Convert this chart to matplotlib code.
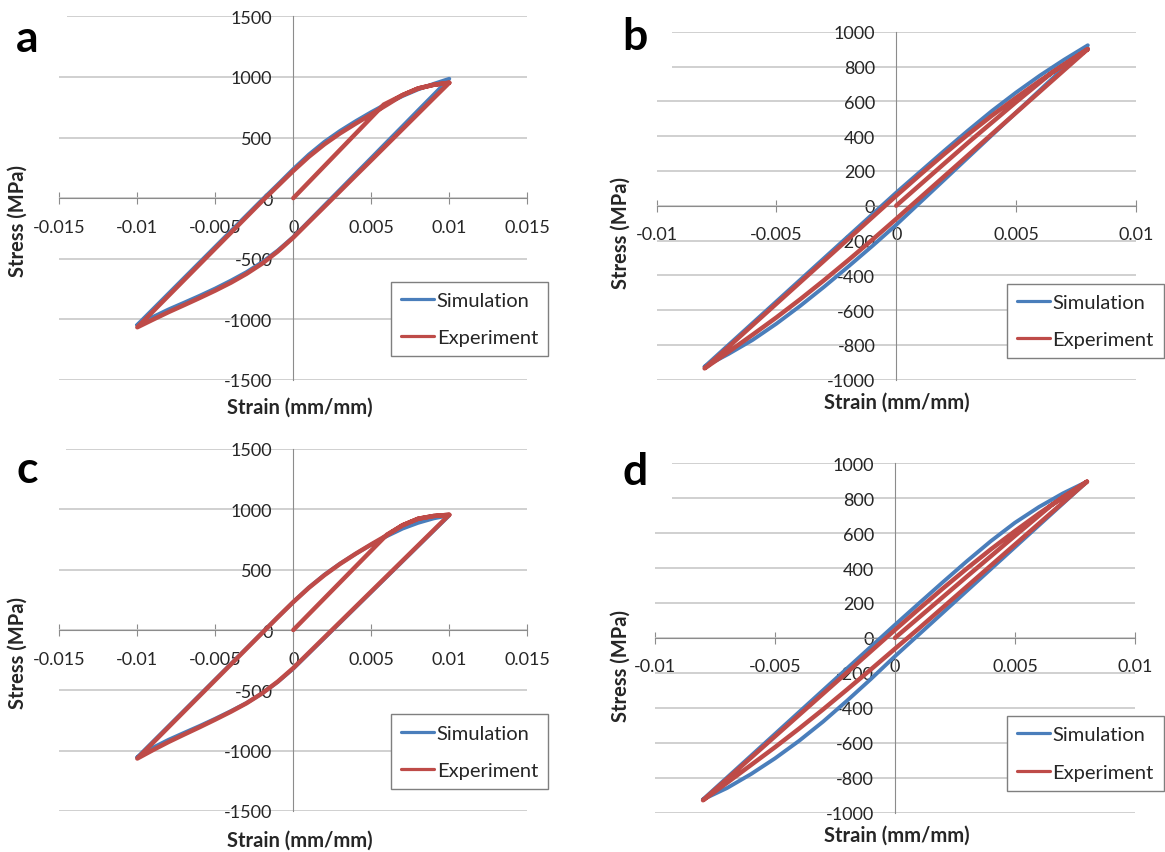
import matplotlib
matplotlib.use("Agg")
import matplotlib.pyplot as plt
from matplotlib.patches import Rectangle
from matplotlib.ticker import FixedLocator, FixedFormatter

plt.rcParams['font.family'] = ['Lato', 'DejaVu Sans']
plt.rcParams['axes.unicode_minus'] = False

SIM_COLOR = '#4a7ebb'
EXP_COLOR = '#be4b48'
GRID_COLOR = '#c8c8c8'
AXIS_COLOR = '#8c8c8c'
TEXT_COLOR = '#262626'

SERIES_NAMES = ['Simulation', 'Experiment']
X_LABEL = 'Strain (mm/mm)'
Y_LABEL = 'Stress (MPa)'

# ---- tick values / labels ----
wide_xticks = [-0.015, -0.01, -0.005, 0.0, 0.005, 0.01, 0.015]
wide_xlabels = ['-0.015', '-0.01', '-0.005', '0', '0.005', '0.01', '0.015']
narrow_xticks = [-0.01, -0.005, 0.0, 0.005, 0.01]
narrow_xlabels = ['-0.01', '-0.005', '0', '0.005', '0.01']
big_yticks = [-1500, -1000, -500, 0, 500, 1000, 1500]
big_ylabels = ['-1500', '-1000', '-500', '0', '500', '1000', '1500']
small_yticks = [-1000, -800, -600, -400, -200, 0, 200, 400, 600, 800, 1000]
small_ylabels = ['-1000', '-800', '-600', '-400', '-200', '0', '200', '400',
                 '600', '800', '1000']

# ---- panel a : strain amplitude 0.01 ----
a_sim_strain = [-0.010, -0.009, -0.008, -0.007, -0.006, -0.005, -0.004, -0.003, -0.002,
                -0.001, 0.000, 0.001, 0.002, 0.003, 0.004, 0.005, 0.006, 0.007, 0.008,
                0.009, 0.010,
                0.009, 0.008, 0.007, 0.006, 0.005, 0.004, 0.003, 0.002, 0.001, 0.000,
                -0.001, -0.002, -0.003, -0.004, -0.005, -0.006, -0.007, -0.008, -0.009,
                -0.010]
a_sim_stress = [-1045, -916, -787, -658, -529, -400, -271, -142, -13,
                112, 240, 360, 465, 555, 635, 710, 780, 842, 897,
                943, 985,
                854, 724, 593, 463, 332, 202, 71, -59, -190, -320,
                -432, -528, -610, -680, -745, -805, -862, -918, -980,
                -1045]
a_exp_strain = [0.000, 0.0058, 0.007, 0.008, 0.009, 0.010,
                0.009, 0.008, 0.007, 0.006, 0.005, 0.004, 0.003, 0.002, 0.001, 0.000,
                -0.001, -0.002, -0.003, -0.004, -0.005, -0.006, -0.007, -0.008, -0.009,
                -0.010,
                -0.009, -0.008, -0.007, -0.006, -0.005, -0.004, -0.003, -0.002, -0.001,
                0.000, 0.001, 0.002, 0.003, 0.004, 0.005, 0.006, 0.007, 0.008, 0.009,
                0.010]
a_exp_stress = [0, 772, 850, 905, 935, 952,
                825, 697, 569, 441, 313, 186, 58, -70, -197, -325,
                -440, -540, -624, -697, -762, -823, -882, -940, -1002,
                -1065,
                -935, -805, -675, -545, -415, -285, -155, -25, 100,
                225, 342, 445, 535, 615, 692, 770, 850, 905, 935,
                952]

# ---- panel b : strain amplitude 0.008 ----
b_sim_strain = [-0.008, -0.007, -0.006, -0.005, -0.004, -0.003, -0.002, -0.001, 0.000,
                0.001, 0.002, 0.003, 0.004, 0.005, 0.006, 0.007, 0.008,
                0.007, 0.006, 0.005, 0.004, 0.003, 0.002, 0.001, 0.000,
                -0.001, -0.002, -0.003, -0.004, -0.005, -0.006, -0.007, -0.008]
b_sim_stress = [-925, -800, -675, -550, -425, -300, -175, -50, 75,
                195, 315, 432, 545, 650, 748, 838, 922,
                793, 664, 535, 406, 277, 148, 19, -110,
                -232, -350, -465, -575, -678, -772, -852, -925]
b_exp_strain = [0.000, 0.003, 0.005, 0.0065, 0.007, 0.008,
                0.007, 0.006, 0.005, 0.004, 0.003, 0.002, 0.001, 0.000,
                -0.001, -0.002, -0.003, -0.004, -0.005, -0.006, -0.007, -0.008,
                -0.007, -0.006, -0.005, -0.004, -0.003, -0.002, -0.001, 0.000,
                0.001, 0.002, 0.003, 0.004, 0.005, 0.006, 0.007, 0.008]
b_exp_stress = [0, 362, 595, 765, 810, 900,
                778, 656, 534, 412, 290, 168, 46, -76,
                -196, -313, -427, -537, -642, -742, -840, -935,
                -811, -687, -563, -439, -315, -191, -67, 57,
                178, 296, 410, 518, 620, 718, 810, 900]

# ---- panel c : strain amplitude 0.01 ----
c_sim_strain = list(a_sim_strain)
c_sim_stress = [-1055, -926, -797, -668, -539, -410, -281, -152, -23,
                106, 232, 352, 458, 550, 632, 708, 778, 840, 888,
                925, 950,
                823, 696, 569, 442, 315, 188, 61, -66, -193, -320,
                -430, -525, -605, -672, -735, -795, -852, -910, -975,
                -1055]
c_exp_strain = [0.000, 0.006, 0.007, 0.008, 0.009, 0.010,
                0.009, 0.008, 0.007, 0.006, 0.005, 0.004, 0.003, 0.002, 0.001, 0.000,
                -0.001, -0.002, -0.003, -0.004, -0.005, -0.006, -0.007, -0.008, -0.009,
                -0.010,
                -0.009, -0.008, -0.007, -0.006, -0.005, -0.004, -0.003, -0.002, -0.001,
                0.000, 0.001, 0.002, 0.003, 0.004, 0.005, 0.006, 0.007, 0.008, 0.009,
                0.010]
c_exp_stress = [0, 790, 868, 922, 945, 955,
                828, 701, 574, 447, 320, 193, 66, -61, -188, -315,
                -428, -525, -607, -677, -742, -805, -866, -928, -995,
                -1065,
                -935, -805, -675, -545, -415, -285, -155, -25, 105,
                232, 350, 455, 548, 632, 710, 785, 868, 922, 945,
                955]

# ---- panel d : strain amplitude 0.008 ----
d_sim_strain = list(b_sim_strain)
d_sim_stress = [-925, -800, -675, -550, -425, -300, -175, -50, 75,
                198, 320, 440, 555, 660, 750, 828, 895,
                770, 645, 520, 395, 270, 145, 20, -105,
                -235, -360, -480, -590, -690, -780, -860, -925]
d_exp_strain = list(b_exp_strain)
d_exp_stress = [0, 352, 585, 758, 806, 895,
                775, 655, 535, 415, 295, 175, 55, -62,
                -180, -296, -410, -520, -626, -728, -830, -930,
                -808, -686, -564, -442, -320, -198, -76, 46,
                166, 284, 398, 508, 612, 712, 806, 895]

W, H = 1165, 853
fig = plt.figure(figsize=(W / 100, H / 100), dpi=100)
fig.patch.set_facecolor('white')


def fx(px):
    return px / W


def fy(py):
    return 1 - py / H


def panel(box, xticks, xlabels, yticks, ylabels, sim_x, sim_y, exp_x, exp_y,
          legend_xy, letter, letter_xy, mask_box, xlabel_xy, ylabel_xy):
    x0, x1, y0, y1 = box
    ax = fig.add_axes([fx(x0), fy(y1), fx(x1 - x0), (y1 - y0) / H])
    ax.set_xlim(xticks[0], xticks[-1])
    ax.set_ylim(yticks[0], yticks[-1])
    for side in ('top', 'right'):
        ax.spines[side].set_visible(False)
    ax.spines['left'].set_position(('data', 0))
    ax.spines['bottom'].set_position(('data', 0))
    for side in ('left', 'bottom'):
        ax.spines[side].set_color(AXIS_COLOR)
        ax.spines[side].set_linewidth(0.8)
    ax.xaxis.set_major_locator(FixedLocator(xticks))
    ax.xaxis.set_major_formatter(FixedFormatter(xlabels))
    ax.yaxis.set_major_locator(FixedLocator(yticks))
    ax.yaxis.set_major_formatter(FixedFormatter(ylabels))
    ax.tick_params(axis='x', direction='inout', length=8.6, width=0.8,
                   color=AXIS_COLOR, labelsize=13, labelcolor=TEXT_COLOR, pad=10.5)
    ax.tick_params(axis='y', length=0, labelsize=13, labelcolor=TEXT_COLOR, pad=15)
    ax.yaxis.grid(True, color=GRID_COLOR, linewidth=1.2)
    ax.set_axisbelow(True)
    ax.patch.set_alpha(0)

    ax.plot(sim_x, sim_y, color=SIM_COLOR, lw=2.8, zorder=3,
            solid_joinstyle='round', solid_capstyle='round', label=SERIES_NAMES[0])
    ax.plot(exp_x, exp_y, color=EXP_COLOR, lw=3.2, zorder=4,
            solid_joinstyle='round', solid_capstyle='round', label=SERIES_NAMES[1])

    leg = ax.legend(loc='upper left', bbox_to_anchor=(fx(legend_xy[0]), fy(legend_xy[1])),
                    bbox_transform=fig.transFigure, frameon=True, fancybox=False,
                    edgecolor='#7f7f7f', framealpha=1, borderpad=0.5,
                    handlelength=1.65, handletextpad=0.12, labelspacing=1.0,
                    borderaxespad=0, fontsize=14.5)
    leg.get_frame().set_linewidth(1.0)
    leg.set_zorder(10)
    for line in leg.get_lines():
        line.set_linewidth(2.3)
    for t in leg.get_texts():
        t.set_color(TEXT_COLOR)

    mx0, my0, mx1, my1 = mask_box
    fig.add_artist(Rectangle((fx(mx0), fy(my1)), fx(mx1 - mx0), (my1 - my0) / H,
                             transform=fig.transFigure, facecolor='white',
                             edgecolor='none', zorder=5))
    fig.text(fx(letter_xy[0]), fy(letter_xy[1]), letter, fontsize=32,
             fontweight='bold', ha='left', va='baseline', zorder=6)
    fig.text(fx(xlabel_xy[0]), fy(xlabel_xy[1]), X_LABEL, fontsize=14.5,
             fontweight='bold', ha='center', va='center', color=TEXT_COLOR)
    fig.text(fx(ylabel_xy[0]), fy(ylabel_xy[1]), Y_LABEL, fontsize=14.5,
             fontweight='bold', ha='center', va='center', rotation=90,
             color=TEXT_COLOR)
    return ax


panel((59.3, 527.3, 17.3, 381.0), wide_xticks, wide_xlabels, big_yticks, big_ylabels,
      a_sim_strain, a_sim_stress, a_exp_strain, a_exp_stress,
      (391, 282.7), 'a', (16, 52), (0, 0, 66.7, 70), (300, 408), (18, 221))
panel((656.7, 1135.7, 32.7, 380.7), narrow_xticks, narrow_xlabels, small_yticks,
      small_ylabels, b_sim_strain, b_sim_stress, b_exp_strain, b_exp_stress,
      (1006.7, 285), 'b', (622, 50), (590, 0, 671.7, 85), (897, 403), (621, 233))
panel((59.3, 527.3, 450.0, 812.0), wide_xticks, wide_xlabels, big_yticks, big_ylabels,
      c_sim_strain, c_sim_stress, c_exp_strain, c_exp_stress,
      (391, 715.4), 'c', (17, 483), (0, 430, 65.7, 500), (300, 840.7), (18, 653))
panel((655.0, 1135.0, 464.3, 813.5), narrow_xticks, narrow_xlabels, small_yticks,
      small_ylabels, d_sim_strain, d_sim_stress, d_exp_strain, d_exp_stress,
      (1006.7, 717.3), 'd', (622, 485), (590, 440, 671.7, 520), (897, 835.3), (621, 666))

fig.savefig('out.png', dpi=100, facecolor='white')
